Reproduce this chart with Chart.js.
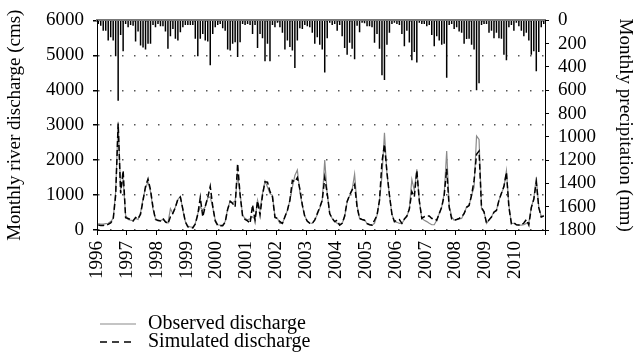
<!DOCTYPE html>
<html>
<head>
<meta charset="utf-8">
<script src="https://cdn.jsdelivr.net/npm/chart.js@4/dist/chart.umd.min.js"></script>
<style>
  body { margin: 0; background: #fff; }
  #wrap { position: relative; width: 640px; height: 360px; }
  #legend { position: absolute; left: 100px; top: 313px; font-family: "Liberation Serif", serif; font-size: 20px; color: #000; }
  #legend .row { height: 18px; line-height: 18px; white-space: nowrap; }
  #legend svg { vertical-align: middle; margin-right: 12px; }
</style>
</head>
<body>
<div id="wrap">
  <canvas id="chart" width="640" height="360"></canvas>
  <div id="legend">
    <div class="row"><svg width="36" height="4"><line x1="0" y1="2" x2="36" y2="2" stroke="#8a8a8a" stroke-width="1.2"/></svg>Observed discharge</div>
    <div class="row"><svg width="36" height="4"><line x1="0" y1="2" x2="36" y2="2" stroke="#000" stroke-width="1.4" stroke-dasharray="7 5"/></svg>Simulated discharge</div>
  </div>
</div>
<script>
// monthly values, Jan 1996 .. Dec 2010
var startYear = 1996;
var years = [1996, 1997, 1998, 1999, 2000, 2001, 2002, 2003, 2004, 2005, 2006, 2007, 2008, 2009, 2010];

// monthly precipitation (mm), right axis
var precip = [
  31, 45, 88, 88, 173, 144, 173, 308, 690, 125, 266, 31,
  59, 40, 45, 181, 96, 215, 232, 249, 201, 201, 40, 59,
  31, 51, 51, 96, 243, 136, 74, 158, 173, 102, 59, 40,
  40, 40, 40, 158, 308, 158, 116, 173, 181, 385, 116, 59,
  40, 31, 68, 88, 249, 258, 201, 187, 314, 187, 31, 40,
  31, 40, 116, 40, 238, 116, 153, 351, 201, 351, 40, 59,
  20, 59, 107, 249, 173, 229, 258, 408, 173, 68, 74, 40,
  51, 59, 107, 201, 144, 209, 249, 447, 153, 20, 40, 31,
  88, 40, 136, 238, 294, 192, 243, 334, 45, 102, 20, 25,
  51, 51, 59, 192, 116, 243, 470, 512, 209, 107, 31, 20,
  31, 40, 116, 221, 88, 190, 342, 272, 362, 20, 31, 31,
  51, 40, 125, 221, 136, 173, 209, 200, 492, 40, 31, 74,
  59, 96, 107, 201, 160, 158, 209, 249, 600, 540, 40, 31,
  31, 107, 88, 153, 107, 153, 158, 294, 342, 59, 40, 88,
  20, 51, 88, 136, 107, 173, 294, 266, 436, 272, 59, 31
];

// observed discharge (cms), left axis
var observed = [
  180, 170, 170, 180, 190, 240, 330, 1100, 3100, 1150, 1450, 420,
  300, 280, 270, 330, 300, 500, 900, 1200, 1380, 1100, 600, 330,
  280, 270, 300, 240, 200, 610, 470, 660, 870, 960, 560, 240,
  110, 90, 80, 190, 470, 660, 570, 660, 920, 950, 650, 290,
  150, 140, 140, 240, 610, 830, 780, 830, 1560, 1040, 420, 330,
  290, 320, 380, 300, 850, 570, 1040, 1400, 1230, 1040, 990, 380,
  330, 190, 190, 380, 560, 850, 1230, 1560, 1720, 1080, 700, 400,
  260, 200, 190, 280, 440, 620, 850, 2000, 1030, 470, 330, 240,
  190, 140, 190, 380, 800, 990, 1150, 1600, 700, 330, 300, 280,
  190, 160, 140, 190, 420, 850, 1550, 2780, 1600, 1000, 450, 240,
  220, 190, 190, 300, 380, 620, 1450, 1130, 1740, 850, 330, 280,
  240, 190, 150, 150, 280, 470, 660, 1040, 2260, 700, 380, 280,
  300, 320, 330, 470, 660, 710, 990, 1230, 2690, 2590, 610, 520,
  190, 280, 380, 520, 570, 850, 1050, 1230, 1700, 700, 190, 190,
  150, 140, 140, 150, 190, 210, 650, 900, 1510, 660, 380, 420
];

// simulated discharge (cms), left axis
var simulated = [
  140, 130, 130, 140, 160, 200, 300, 1000, 3050, 1050, 1700, 350,
  330, 300, 260, 360, 320, 450, 850, 1250, 1460, 1150, 650, 300,
  270, 260, 330, 230, 180, 380, 480, 650, 880, 940, 600, 230,
  90, 70, 60, 170, 450, 930, 380, 680, 930, 1250, 680, 260,
  130, 120, 120, 220, 590, 820, 760, 660, 1900, 1000, 400, 300,
  260, 190, 720, 280, 830, 430, 1000, 1380, 1370, 1100, 950, 360,
  330, 240, 190, 380, 560, 850, 1420, 1380, 1500, 1180, 720, 380,
  250, 190, 190, 290, 470, 650, 850, 1500, 1050, 470, 330, 240,
  280, 140, 190, 400, 820, 1000, 1150, 1300, 660, 330, 300, 280,
  180, 150, 140, 280, 420, 850, 1950, 2450, 1650, 1000, 450, 240,
  280, 300, 190, 320, 400, 600, 1100, 950, 1700, 830, 330, 380,
  400, 400, 330, 330, 280, 470, 650, 1000, 1750, 650, 320, 280,
  300, 330, 380, 470, 650, 700, 1000, 1420, 2170, 2260, 640, 520,
  200, 290, 370, 510, 560, 850, 1050, 1250, 1650, 650, 180, 210,
  150, 140, 140, 200, 300, 140, 640, 880, 1370, 640, 370, 400
];

var font = { family: "'Liberation Serif', serif", size: 19 };
var endYear = years[years.length - 1] + 1;

function pairs(values) {
  return values.map(function (v, i) {
    return { x: startYear + (i + 0.5) / 12, y: v };
  });
}

function plain(v) { return String(v); }

var ctx = document.getElementById('chart').getContext('2d');
var chart = new Chart(ctx, {
  type: 'bar',
  data: {
    datasets: [
      {
        type: 'line',
        label: 'Simulated discharge',
        data: pairs(simulated),
        yAxisID: 'y',
        borderColor: '#000',
        borderWidth: 1.5,
        borderDash: [6, 3],
        pointRadius: 0,
        tension: 0,
        order: 1
      },
      {
        type: 'line',
        label: 'Observed discharge',
        data: pairs(observed),
        yAxisID: 'y',
        borderColor: '#8a8a8a',
        borderWidth: 1.2,
        pointRadius: 0,
        tension: 0,
        order: 2
      },
      {
        type: 'bar',
        label: 'Monthly precipitation',
        data: pairs(precip),
        yAxisID: 'y2',
        backgroundColor: '#000',
        barThickness: 1.5,
        inflateAmount: 0,
        order: 3
      }
    ]
  },
  options: {
    responsive: false,
    devicePixelRatio: 1,
    animation: false,
    layout: { padding: 0 },
    plugins: { legend: { display: false }, tooltip: { enabled: false } },
    scales: {
      x: {
        type: 'linear',
        position: 'bottom',
        min: startYear,
        max: endYear,
        offset: false,
        afterFit: function (s) { s.height = 130; },
        ticks: {
          stepSize: 1,
          autoSkip: false,
          minRotation: 90,
          maxRotation: 90,
          padding: 6,
          color: '#000',
          font: font,
          callback: function (v) { return years.indexOf(v) >= 0 ? String(v) : ''; }
        },
        grid: { offset: false, drawOnChartArea: false, tickLength: 5, tickColor: '#000' },
        border: { color: '#000', width: 1 }
      },
      xTop: {
        type: 'linear',
        position: 'top',
        min: startYear,
        max: endYear,
        offset: false,
        afterFit: function (s) { s.height = 18; },
        ticks: { display: false },
        grid: { display: false },
        border: { color: '#777', width: 2 }
      },
      y: {
        position: 'left',
        min: 0,
        max: 6000,
        afterFit: function (s) { s.width = 97; },
        ticks: { stepSize: 1000, autoSkip: false, color: '#000', font: font, padding: 9, callback: plain },
        grid: { color: '#555', lineWidth: 1.5, tickLength: 4, tickColor: '#000', tickBorderDash: [] },
        border: { color: '#000', width: 1, dash: [1.5, 10.5] },
        title: { display: true, text: 'Monthly river discharge (cms)', color: '#000', font: font, padding: { top: 4, bottom: 0 } }
      },
      y2: {
        position: 'right',
        min: 0,
        max: 1800,
        reverse: true,
        afterFit: function (s) { s.width = 95; },
        ticks: { stepSize: 200, autoSkip: false, color: '#000', font: font, padding: 9, callback: plain },
        grid: { drawOnChartArea: false, tickLength: 4, tickColor: '#000' },
        border: { color: '#000', width: 1 },
        title: { display: true, text: 'Monthly precipitation (mm)', color: '#000', font: font, padding: { top: 4, bottom: 0 } }
      }
    }
  }
});
</script>
</body>
</html>
